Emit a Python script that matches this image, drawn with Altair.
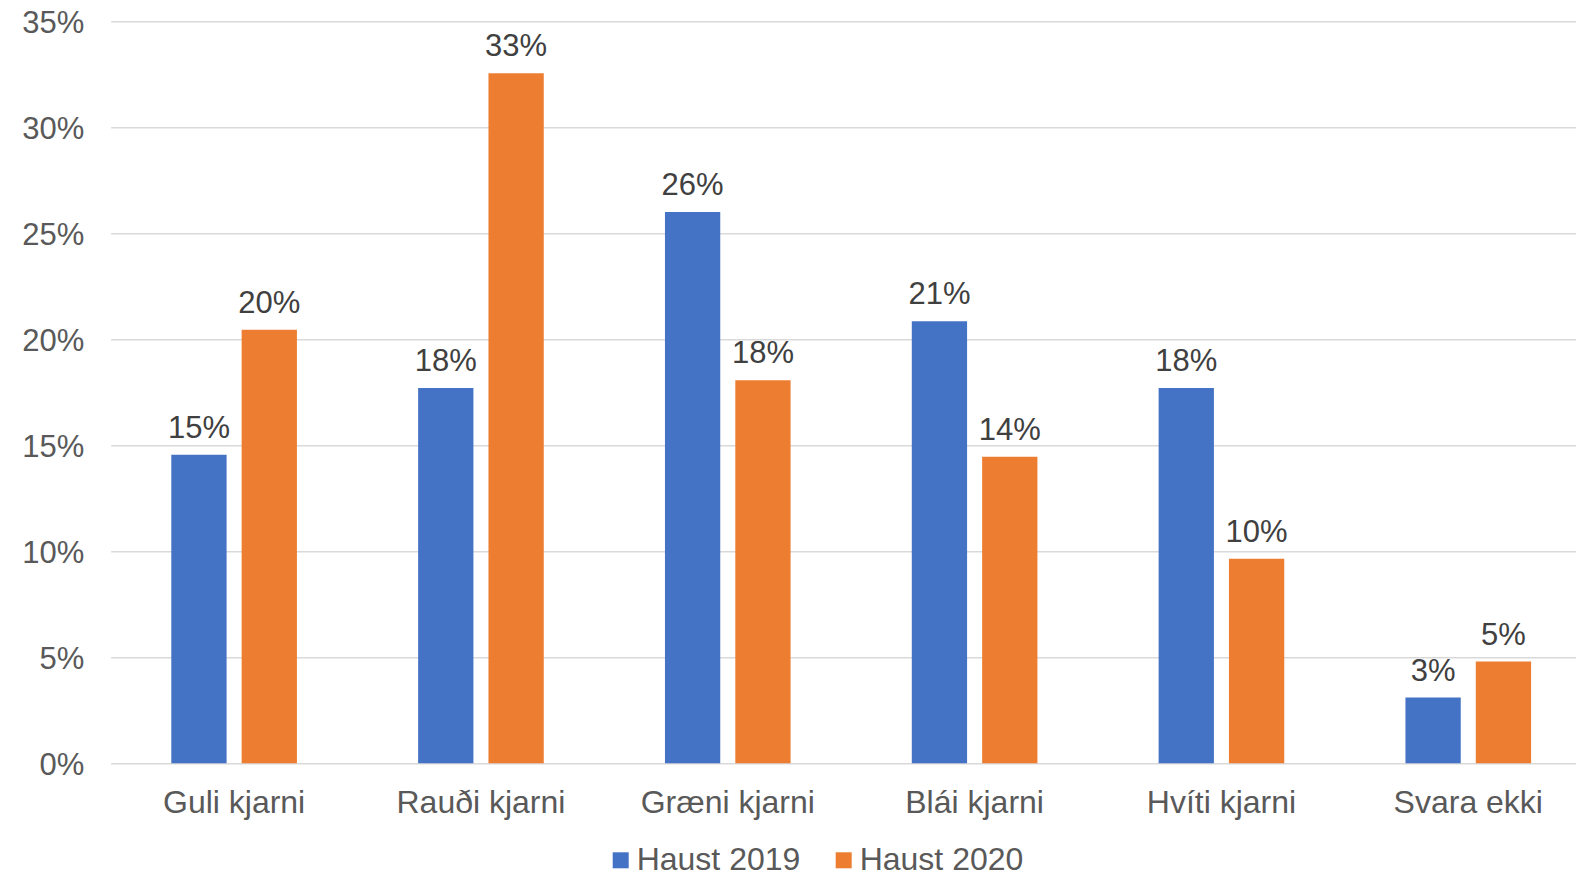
import altair as alt
import pandas as pd

categories = ["Guli kjarni", "Rauði kjarni", "Græni kjarni", "Blái kjarni", "Hvíti kjarni", "Svara ekki"]
series = ["Haust 2019", "Haust 2020"]
haust_2019 = [0.1455, 0.1770, 0.2600, 0.2085, 0.1770, 0.0310]
haust_2020 = [0.2045, 0.3255, 0.1807, 0.1446, 0.0965, 0.0480]
colors = ["#4472C4", "#ED7D31"]
y_ticks = [0.0, 0.05, 0.10, 0.15, 0.20, 0.25, 0.30, 0.35]

rows = []
for i, c in enumerate(categories):
    rows.append({"cat": c, "series": series[0], "value": haust_2019[i]})
    rows.append({"cat": c, "series": series[1], "value": haust_2020[i]})
df = pd.DataFrame(rows)

FONT = "Liberation Sans"

x_enc = alt.X(
    "cat:N",
    sort=categories,
    title=None,
    scale=alt.Scale(paddingInner=0.491, paddingOuter=0.2455),
    axis=alt.Axis(
        labelAngle=0,
        labelFont=FONT,
        labelFontSize=32,
        labelColor="#595959",
        labelPadding=24,
        domain=False,
        ticks=False,
        grid=False,
    ),
)
xoff_enc = alt.XOffset(
    "series:N",
    sort=series,
    scale=alt.Scale(paddingInner=0.214, paddingOuter=0),
)
y_enc = alt.Y(
    "value:Q",
    title=None,
    scale=alt.Scale(domain=[0, 0.35], nice=False),
    axis=alt.Axis(
        values=y_ticks,
        format=".0%",
        labelFont=FONT,
        labelFontSize=31,
        labelColor="#595959",
        labelPadding=27,
        labelOffset=2,
        domain=False,
        ticks=False,
        grid=True,
        gridColor="#D9D9D9",
        gridWidth=1.5,
    ),
)

bars = alt.Chart(df).mark_bar().encode(
    x=x_enc,
    xOffset=xoff_enc,
    y=y_enc,
    color=alt.Color(
        "series:N",
        sort=series,
        scale=alt.Scale(domain=series, range=colors),
        legend=alt.Legend(
            title=None,
            orient="none",
            direction="horizontal",
            legendX=494,
            legendY=823,
            symbolType="square",
            symbolSize=256,
            symbolStrokeWidth=0,
            labelFont=FONT,
            labelFontSize=32,
            labelColor="#595959",
            labelOffset=0,
            labelLimit=400,
            columnPadding=27,
            padding=0,
        ),
    ),
)

labels = alt.Chart(df).mark_text(
    font=FONT,
    fontSize=31,
    color="#404040",
    baseline="alphabetic",
    dy=-17,
).encode(
    x=alt.X("cat:N", sort=categories),
    xOffset=alt.XOffset("series:N", sort=series),
    y=alt.Y("value:Q"),
    text=alt.Text("value:Q", format=".0%"),
)

chart = (
    alt.layer(bars, labels)
    .properties(
        width=1481,
        height=742,
        padding={"left": 102.7, "top": 13.3, "right": -16, "bottom": 114.5},
        autosize=alt.AutoSizeParams(type="none"),
        background="white",
    )
    .configure_view(stroke=None)
)

chart.save("out.html", embed_options={"renderer": "svg", "actions": False})
